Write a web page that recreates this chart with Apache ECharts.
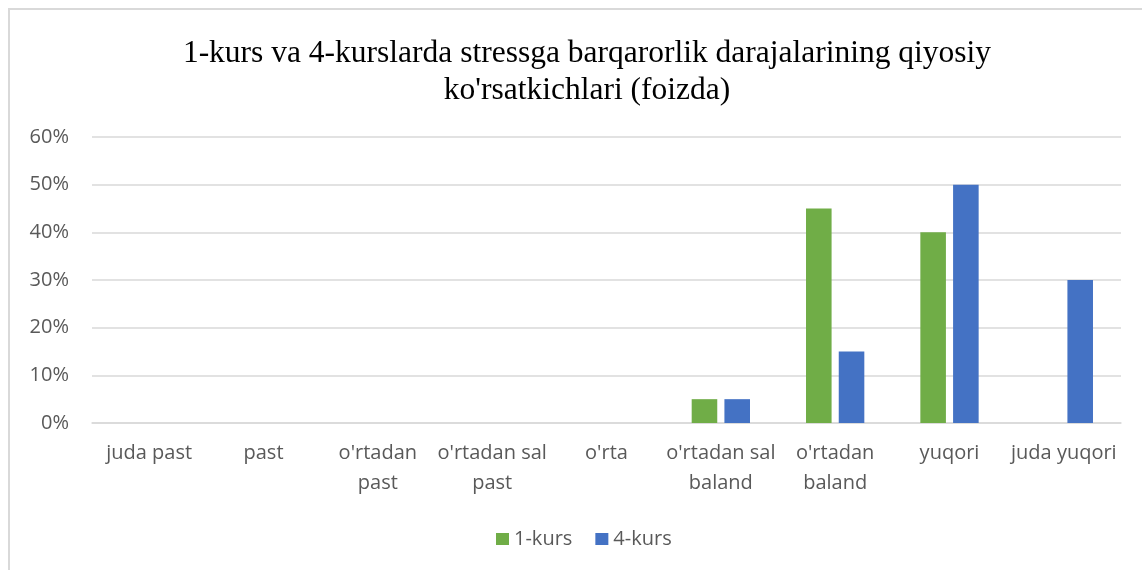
<!DOCTYPE html>
<html>
<head>
<meta charset="utf-8">
<script src="https://cdn.jsdelivr.net/npm/echarts@6/dist/echarts.min.js"></script>
<style>
html,body{margin:0;padding:0;background:#fff;}
#chart{width:1142px;height:570px;}
</style>
</head>
<body>
<div id="chart"></div>
<script>
var titleText = "1-kurs va 4-kurslarda stressga barqarorlik darajalarining qiyosiy\nko'rsatkichlari (foizda)";
var categories = ["juda past", "past", "o'rtadan\npast", "o'rtadan sal\npast", "o'rta", "o'rtadan sal\nbaland", "o'rtadan\nbaland", "yuqori", "juda yuqori"];
var seriesNames = ["1-kurs", "4-kurs"];
var kurs1 = [0, 0, 0, 0, 0, 5, 45, 40, 0];
var kurs4 = [0, 0, 0, 0, 0, 5, 15, 50, 30];
var yMin = 0, yMax = 60, yStep = 10;

var chart = echarts.init(document.getElementById('chart'), null, {renderer: 'canvas'});
var labelColor = '#595959';
var sansFont = "'Open Sans', 'Liberation Sans', sans-serif";
chart.setOption({
  animation: false,
  backgroundColor: '#ffffff',
  graphic: [{
    type: 'rect',
    z: -10,
    shape: {x: 9, y: 9, width: 1200, height: 600},
    style: {fill: 'none', stroke: '#d9d9d9', lineWidth: 2}
  }],
  title: {
    text: titleText,
    left: 582,
    top: 30,
    textAlign: 'center',
    textStyle: {
      fontFamily: "'Liberation Serif', 'Times New Roman', serif",
      fontWeight: 'normal',
      fontSize: 31.5,
      lineHeight: 37,
      color: '#000000'
    }
  },
  legend: {
    data: seriesNames,
    left: 491,
    top: 524,
    itemWidth: 13,
    itemHeight: 12,
    itemGap: 23,
    icon: 'rect',
    textStyle: {fontFamily: sansFont, fontSize: 20, color: labelColor}
  },
  grid: {left: 92, right: 21, top: 137, bottom: 147, containLabel: false},
  xAxis: {
    type: 'category',
    data: categories,
    axisLine: {show: true, lineStyle: {color: '#d9d9d9', width: 1.5}},
    axisTick: {show: false},
    axisLabel: {
      interval: 0,
      margin: 15,
      fontFamily: sansFont,
      fontSize: 20,
      lineHeight: 30,
      color: labelColor
    }
  },
  yAxis: {
    type: 'value',
    min: yMin,
    max: yMax,
    interval: yStep,
    axisLine: {show: false},
    axisTick: {show: false},
    splitLine: {lineStyle: {color: '#d9d9d9', width: 1.5}},
    axisLabel: {
      formatter: '{value}%',
      margin: 23,
      fontFamily: sansFont,
      fontSize: 20,
      color: labelColor
    }
  },
  series: [{
    name: seriesNames[0],
    type: 'bar',
    data: kurs1,
    barGap: '28%',
    barCategoryGap: '49%',
    itemStyle: {color: '#70AD47'}
  }, {
    name: seriesNames[1],
    type: 'bar',
    data: kurs4,
    barGap: '28%',
    barCategoryGap: '49%',
    itemStyle: {color: '#4472C4'}
  }]
});
</script>
</body>
</html>
